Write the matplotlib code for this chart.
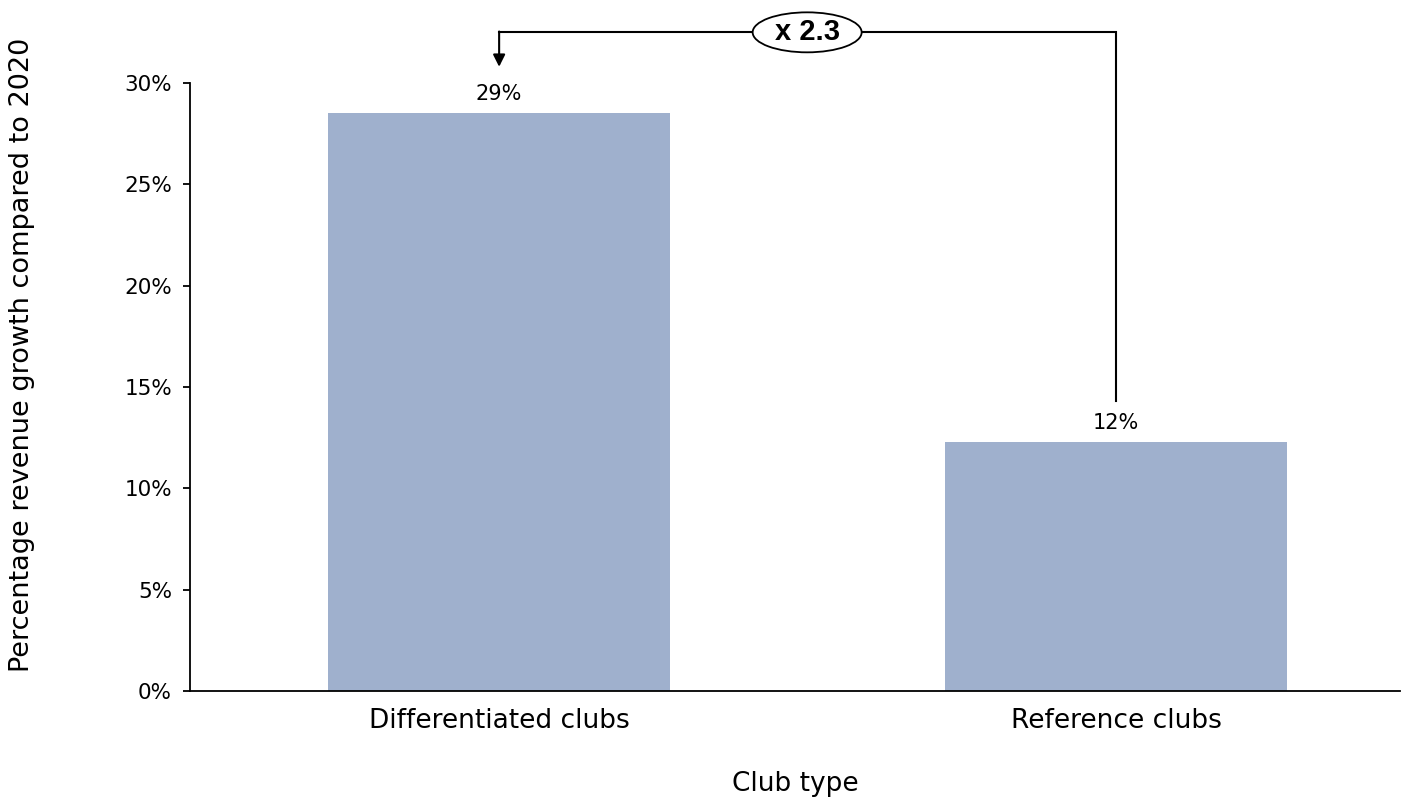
import matplotlib.pyplot as plt
from matplotlib.patches import Ellipse
from matplotlib.ticker import PercentFormatter

categories = ['Differentiated clubs', 'Reference clubs']
growth = [28.5, 12.3]
bar_labels = ['29%', '12%']
ratio_label = 'x 2.3'

plt.rcParams['font.family'] = ['DejaVu Sans']

fig = plt.figure(figsize=(14.07, 7.98), dpi=100)
ax = fig.add_axes([190 / 1407, 1 - 691 / 798, 1210 / 1407, 608 / 798])

x = range(len(categories))
ax.bar(x, growth, width=0.554, color='#9fb0cd')
for i, v in enumerate(growth):
    ax.text(i, v + 0.45, bar_labels[i], ha='center', va='bottom', fontsize=15)

ax.set_xlim(-0.501, 1.46)
ax.set_ylim(0, 30)
ax.set_yticks([0, 5, 10, 15, 20, 25, 30])
ax.yaxis.set_major_formatter(PercentFormatter(decimals=0))
ax.set_xticks(list(x))
ax.set_xticklabels(categories, fontsize=19)
ax.tick_params(axis='x', length=0, pad=12)
ax.tick_params(axis='y', labelsize=15.5, length=5, width=1.3, pad=8)
for s in ['top', 'right']:
    ax.spines[s].set_visible(False)
for s in ['left', 'bottom']:
    ax.spines[s].set_linewidth(1.3)

ax.set_xlabel('Club type', fontsize=19, labelpad=27)
fig.text(22 / 1407, 1 - 355 / 798, 'Percentage revenue growth compared to 2020',
         rotation=90, ha='center', va='center', fontsize=19.5)

# ratio bracket above the bars
top_y = 32.5
ax.plot([1, 1, 0], [14.3, top_y, top_y], color='black', lw=1.5, clip_on=False,
        solid_joinstyle='miter')
ax.annotate('', xy=(0, 30.8), xytext=(0, top_y + 0.04),
            arrowprops=dict(arrowstyle='-|>', color='black', lw=1.5, mutation_scale=18,
                            shrinkA=0, shrinkB=0),
            annotation_clip=False)
cx = (807 - 499) / 617
ax.add_patch(Ellipse((cx, top_y), width=109 / 617, height=40 / 20.27, facecolor='white',
                     edgecolor='black', lw=1.3, clip_on=False, zorder=3))
ax.text(cx, top_y, ratio_label, ha='center', va='center', fontsize=21,
        fontweight='bold', family='Liberation Sans', zorder=4)

fig.savefig('out.png', dpi=100)
